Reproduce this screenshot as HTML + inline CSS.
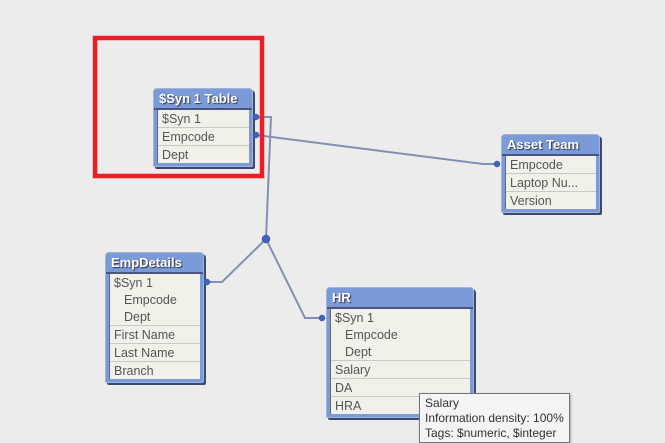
<!DOCTYPE html>
<html><head><meta charset="utf-8"><style>
body{margin:0;width:665px;height:441px;background:#ececec;position:relative;overflow:hidden;font-family:"Liberation Sans",sans-serif;}
.t{position:absolute;background:#7b9ad8;border:1px solid #9fb3dc;border-radius:4px 4px 2px 2px;box-shadow:2px 2px 0 #3d4a6e;}
.h{height:19px;line-height:20px;color:#fff;font-weight:bold;font-size:13px;padding-left:5px;text-shadow:1px 1px 1px #334;border-bottom:2px solid #4a5680;}
.rows{margin:0 3px 3px 3px;background:#f1f0e9;border-left:1px solid #667;}
.r{height:17px;line-height:18px;font-size:12.5px;color:#555;padding-left:4px;border-bottom:1px solid #c8c8c8;}
.r.n{border-bottom:none}
.i{padding-left:14px}
svg{position:absolute;left:0;top:0}
</style></head><body>
<svg width="665" height="441">
<g stroke="#8390b4" stroke-width="2" fill="none">
<polyline points="256,117 271,117 266,239"/>
<polyline points="256,135 483,164 497,164"/>
<polyline points="266,239 222,282 207,282"/>
<polyline points="266,239 305,318 322,318"/>
</g>
</svg>
<div class="t" style="left:153px;top:88px;width:98px;">
<div class="h">$Syn 1 Table</div>
<div class="rows"><div class="r">$Syn 1</div><div class="r">Empcode</div><div class="r n">Dept</div></div></div>
<div class="t" style="left:501px;top:134px;width:97px;">
<div class="h">Asset Team</div>
<div class="rows"><div class="r">Empcode</div><div class="r">Laptop Nu...</div><div class="r n">Version</div></div></div>
<div class="t" style="left:105px;top:252px;width:97px;">
<div class="h">EmpDetails</div>
<div class="rows"><div class="r n">$Syn 1</div><div class="r n i">Empcode</div><div class="r i">Dept</div><div class="r">First Name</div><div class="r">Last Name</div><div class="r n">Branch</div></div></div>
<div class="t" style="left:326px;top:287px;width:146px;">
<div class="h">HR</div>
<div class="rows"><div class="r n">$Syn 1</div><div class="r n i">Empcode</div><div class="r i">Dept</div><div class="r">Salary</div><div class="r">DA</div><div class="r n">HRA</div></div></div>
<svg width="665" height="441">
<g fill="#3f64c0" stroke="#2a4a9a" stroke-width="0.5">
<circle cx="256" cy="117" r="3"/><circle cx="256" cy="135" r="3"/>
<circle cx="497" cy="164" r="3"/><circle cx="207" cy="282" r="3"/>
<circle cx="322" cy="318" r="3"/><circle cx="266" cy="239" r="4"/>
</g>
<rect x="95" y="38" width="167" height="138" fill="none" stroke="#ee1c25" stroke-width="4.5"/>
</svg>
<div style="position:absolute;left:419px;top:393px;width:151px;height:50px;background:#f4f4f6;border:1px solid #767676;box-shadow:1px 1px 2px #aaa;font-size:12px;color:#333;line-height:15px;padding:2px 0 0 5px;box-sizing:border-box;">Salary<br>Information density: 100%<br>Tags: $numeric, $integer</div>
</body></html>
